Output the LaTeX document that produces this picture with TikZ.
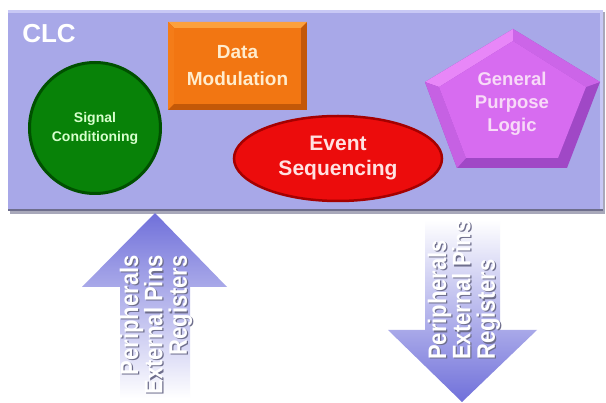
\documentclass[tikz,border=0pt]{standalone}
\usepackage{fontspec}
\setmainfont{Liberation Sans}
\usetikzlibrary{shapes.geometric}
\definecolor{panelc}{RGB}{168,168,232}
\definecolor{panelrim}{RGB}{200,200,245}
\definecolor{panelsh}{RGB}{110,110,140}
\definecolor{sigc}{RGB}{8,130,8}
\definecolor{sigdark}{RGB}{0,80,0}
\definecolor{sigtext}{RGB}{215,255,205}
\definecolor{orc}{RGB}{242,118,18}
\definecolor{orlight}{RGB}{252,160,60}
\definecolor{ordark}{RGB}{195,88,8}
\definecolor{ortext}{RGB}{255,236,205}
\definecolor{redc}{RGB}{236,12,12}
\definecolor{reddark}{RGB}{165,0,0}
\definecolor{redtext}{RGB}{255,225,225}
\definecolor{purc}{RGB}{215,108,240}
\definecolor{purlight}{RGB}{232,135,248}
\definecolor{purdark}{RGB}{160,72,198}
\definecolor{purtext}{RGB}{248,218,248}
\definecolor{arrowc}{RGB}{112,112,218}
\tikzset{
  lbl/.style={font=\bfseries, align=center, inner sep=0pt},
  vtext/.style={rotate=90, yscale=1.15, inner sep=0pt, font=\bfseries\fontsize{22}{21.2}\selectfont},
}
\begin{document}
\begin{tikzpicture}[x=1pt,y=-1pt]
\useasboundingbox (0,0) rectangle (606,403);
\fill[white] (0,0) rectangle (606,403);
% panel
\fill[panelsh!60!white] (10,12) rectangle (605,214);
\fill[panelc] (8,10) rectangle (603,210);
\fill[panelrim] (8,10) rectangle (603,13);
\fill[panelrim] (600,10) rectangle (603,210);
\draw[panelsh, line width=1.5] (8,210) -- (603,210);
\node[lbl, anchor=base, text=white, font=\bfseries\fontsize{26}{28}\selectfont] (clc) at (49,43) {CLC};
% signal conditioning
\node[lbl, circle, minimum size=131, fill=sigc, draw=sigdark, line width=3, text=sigtext,
      font=\bfseries\fontsize{14}{19}\selectfont] (sig) at (95,128) {Signal\\Conditioning};
% data modulation (bevelled box)
\fill[ordark] (168,22) rectangle (307,110);
\fill[orlight] (168,22) -- (307,22) -- (301,28) -- (174,28) -- cycle;
\fill[orc!85!orlight] (168,22) -- (174,28) -- (174,104) -- (168,110) -- cycle;
\node[lbl, rectangle, minimum width=127, minimum height=76, fill=orc, text=ortext,
      font=\bfseries\fontsize{19}{27}\selectfont] (dm) at (237.5,66) {Data\\Modulation};
% event sequencing
\node[lbl, ellipse, minimum width=208, minimum height=85, fill=redc, draw=reddark, line width=2.5,
      text=redtext, font=\bfseries\fontsize{21}{25}\selectfont] (es) at (338,158.5) {Event\\Sequencing};
% general purpose logic (bevelled pentagon)
\coordinate (p1) at (513,29);  \coordinate (p2) at (600,82);  \coordinate (p3) at (567,168);
\coordinate (p4) at (457,168); \coordinate (p5) at (425,82);
\coordinate (q1) at (513,41);  \coordinate (q2) at (586,87);  \coordinate (q3) at (558,158);
\coordinate (q4) at (466,158); \coordinate (q5) at (439,87);
\fill[purdark] (p1) -- (p2) -- (p3) -- (p4) -- (p5) -- cycle;
\fill[purlight] (p5) -- (p1) -- (q1) -- (q5) -- cycle;
\fill[purc!80!purdark] (p1) -- (p2) -- (q2) -- (q1) -- cycle;
\fill[purc!70!purdark] (p5) -- (q5) -- (q4) -- (p4) -- cycle;
\fill[purc] (q1) -- (q2) -- (q3) -- (q4) -- (q5) -- cycle;
\node[lbl, text=purtext, font=\bfseries\fontsize{18.5}{23}\selectfont] (gpl) at (512,104) {General\\Purpose\\Logic};
% up arrow
\shade[top color=arrowc, middle color=arrowc!72!white, bottom color=white]
  (155,213) -- (227,287) -- (190,287) -- (190,398) -- (120,398) -- (120,287) -- (82,287) -- cycle;
\node[vtext, anchor=east, align=right, text=panelsh] (upsh) at (157.2,256.2) {Peripherals\\External Pins\\Registers};
\node[vtext, anchor=east, align=right, text=white] (uptext) at (156,255) {Peripherals\\External Pins\\Registers};
% down arrow
\shade[top color=white, middle color=arrowc!85!white, bottom color=arrowc]
  (425,220) -- (500,220) -- (500,330) -- (537,330) -- (462,402) -- (388,330) -- (425,330) -- cycle;
\node[vtext, anchor=west, align=left, text=panelsh] (dnsh) at (465.2,361.2) {Peripherals\\External Pins\\Registers};
\node[vtext, anchor=west, align=left, text=white] (dntext) at (464,360) {Peripherals\\External Pins\\Registers};
\end{tikzpicture}
\end{document}
